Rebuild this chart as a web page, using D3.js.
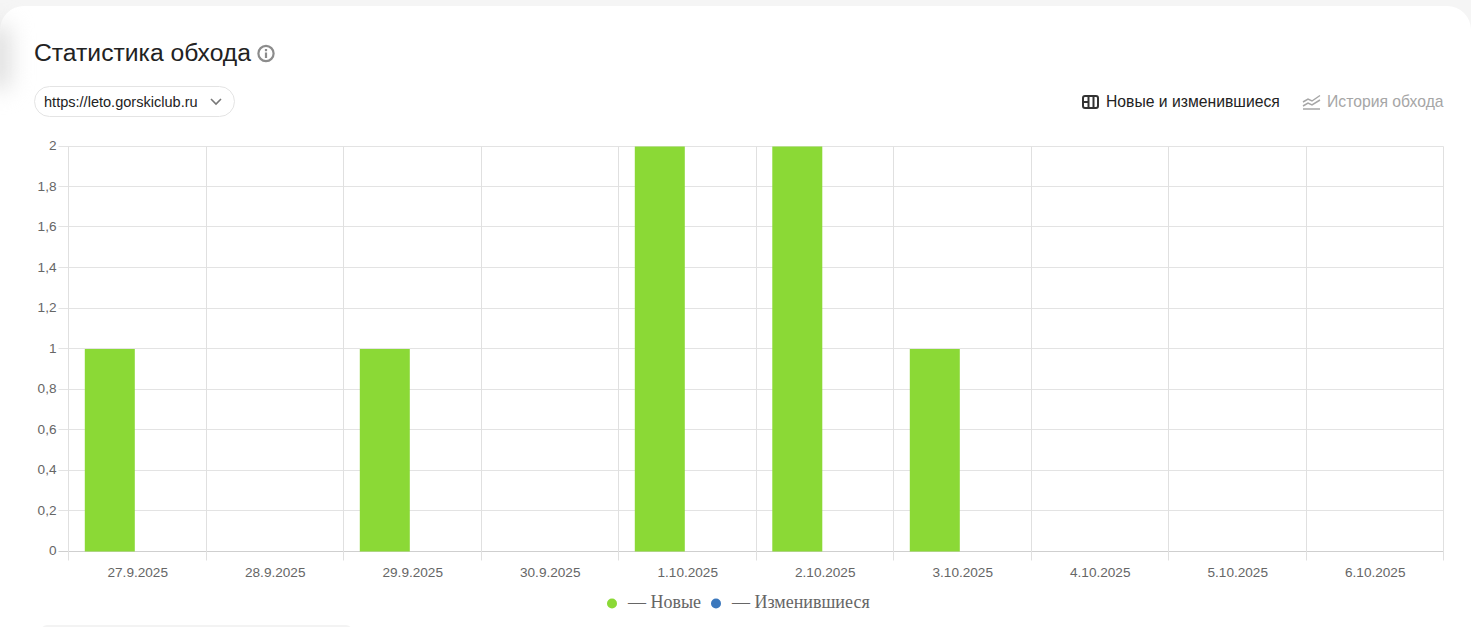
<!DOCTYPE html>
<html lang="ru">
<head>
<meta charset="UTF-8">
<title>Статистика обхода</title>
<script src="https://d3js.org/d3.v7.min.js"></script>
<style>
    html, body { margin: 0; padding: 0; background: #f5f5f5; overflow: hidden; }
    #card {
        position: absolute; left: 0; top: 6px; width: 1471px; height: 640px;
        background: #fff; border-radius: 24px 24px 0 0;
    }
    #shade {
        position: absolute; left: -12px; top: 24px; width: 22px; height: 66px;
        background: #dcdcdc; filter: blur(11px); border-radius: 10px;
    }
    #nextcard {
        position: absolute; left: 41px; top: 625px; width: 311px; height: 20px;
        background: #f3f3f3; border-radius: 6px 6px 0 0;
    }
    svg { position: absolute; left: 0; top: 0; }
    text { font-family: "Liberation Sans", Arial, sans-serif; }
    .tick-label { font-size: 13.6px; fill: #666; }
    .legend-label { font-family: "Liberation Serif", serif; font-size: 18px; fill: #666; }
</style>
</head>
<body>
<div id="card"></div>
<div id="shade"></div>
<div id="nextcard"></div>
<svg id="chart" width="1471" height="627"></svg>
<script>
    const dates = ["27.9.2025", "28.9.2025", "29.9.2025", "30.9.2025", "1.10.2025",
        "2.10.2025", "3.10.2025", "4.10.2025", "5.10.2025", "6.10.2025"];
    const newPages = [1, 0, 1, 0, 2, 2, 1, 0, 0, 0];
    const changedPages = [0, 0, 0, 0, 0, 0, 0, 0, 0, 0];
    const yTicks = [0, 0.2, 0.4, 0.6, 0.8, 1, 1.2, 1.4, 1.6, 1.8, 2];
    const seriesNames = ["Новые", "Изменившиеся"];
    const seriesColors = ["#8bd936", "#3b78bd"];

    const svg = d3.select("#chart");
    const margin = {top: 146.5, right: 27.5, bottom: 75.5, left: 68.5};
    const width = 1471 - margin.left - margin.right;
    const height = 627 - margin.top - margin.bottom;
    const g = svg.append("g").attr("transform", `translate(${margin.left},${margin.top})`);

    const x = d3.scaleBand().domain(dates).range([0, width]);
    const xSeries = d3.scaleBand().domain(seriesNames).range([0, x.bandwidth()])
        .paddingInner(0.04).paddingOuter(0.34).align(0.46);
    const y = d3.scaleLinear().domain([0, 2]).range([height, 0]);

    // snap to the pixel grid so the 1px lines stay crisp
    const snapX = v => Math.floor(v + margin.left) + 0.5 - margin.left;

    // Grid
    g.selectAll(".grid-y").data(yTicks).enter().append("line")
        .attr("x1", -10).attr("x2", width)
        .attr("y1", d => Math.floor(y(d))).attr("y2", d => Math.floor(y(d)))
        .attr("stroke", d => d === 0 ? "#cfcfcf" : "#e3e3e3");
    const edges = dates.map(d => x(d)).concat([width]);
    g.selectAll(".grid-x").data(edges).enter().append("line")
        .attr("x1", d => snapX(d)).attr("x2", d => snapX(d))
        .attr("y1", 0).attr("y2", height + 9)
        .attr("stroke", "#e0e0e0");

    // Bars
    [newPages, changedPages].forEach((values, i) => {
        g.selectAll(".bar" + i).data(values).enter().append("rect")
            .attr("x", (d, k) => x(dates[k]) + xSeries(seriesNames[i]))
            .attr("y", d => y(d))
            .attr("width", xSeries.bandwidth())
            .attr("height", d => height - y(d))
            .attr("fill", seriesColors[i]);
    });

    // Tick labels
    g.selectAll(".x-label").data(dates).enter().append("text")
        .attr("class", "tick-label")
        .attr("x", d => x(d) + x.bandwidth() / 2 + 0.5)
        .attr("y", height + 25)
        .attr("text-anchor", "middle")
        .text(d => d);
    g.selectAll(".y-label").data(yTicks).enter().append("text")
        .attr("class", "tick-label")
        .attr("x", -12)
        .attr("y", d => y(d) + 3.5)
        .attr("text-anchor", "end")
        .text(d => String(d).replace(".", ","));

    // Legend
    const legendX = [612, 716];
    const legendText = [628, 732];
    seriesNames.forEach((name, i) => {
        svg.append("circle").attr("cx", legendX[i]).attr("cy", 603.5).attr("r", 5)
            .attr("fill", seriesColors[i]);
        svg.append("text").attr("class", "legend-label")
            .attr("x", legendText[i]).attr("y", 608).text("— " + name);
    });

    // Header
    svg.append("text").attr("x", 34).attr("y", 61)
        .attr("font-size", 24.7).attr("fill", "#222").text("Статистика обхода");
    const info = svg.append("g").attr("transform", "translate(266,53.5)");
    info.append("circle").attr("r", 7.6).attr("fill", "none").attr("stroke", "#8c8c8c").attr("stroke-width", 2.2);
    info.append("rect").attr("x", -1.1).attr("y", -1).attr("width", 2.2).attr("height", 5.5).attr("fill", "#8c8c8c");
    info.append("rect").attr("x", -1.1).attr("y", -4.5).attr("width", 2.2).attr("height", 2.2).attr("fill", "#8c8c8c");

    // Site selector
    svg.append("rect").attr("x", 34.5).attr("y", 86.5).attr("width", 200).attr("height", 30).attr("rx", 15)
        .attr("fill", "#fff").attr("stroke", "#e4e4e4");
    svg.append("text").attr("x", 44).attr("y", 107).attr("font-size", 14.55).attr("fill", "#222")
        .text("https://leto.gorskiclub.ru");
    svg.append("path").attr("d", "M211 99l5 5 5-5").attr("fill", "none").attr("stroke", "#777").attr("stroke-width", 1.6);

    // View switch
    svg.append("text").attr("x", 1106).attr("y", 107).attr("font-size", 15.73).attr("fill", "#222")
        .text("Новые и изменившиеся");
    svg.append("text").attr("x", 1327).attr("y", 107).attr("font-size", 15.73).attr("fill", "#a6a6a6")
        .text("История обхода");
    const tableIcon = svg.append("g").attr("fill", "none").attr("stroke", "#333").attr("stroke-width", 2);
    tableIcon.append("rect").attr("x", 1083).attr("y", 96).attr("width", 15).attr("height", 12).attr("rx", 2);
    tableIcon.append("path").attr("d", "M1088.5 96v12M1093.5 96v12M1083 102h5");
    const lineIcon = svg.append("g").attr("fill", "none").attr("stroke", "#a6a6a6").attr("stroke-width", 1.5);
    lineIcon.append("path").attr("d", "M1303 102l5-3 4 2 8-5.5");
    lineIcon.append("path").attr("d", "M1303 106l5-3 4 2 8-5");
    lineIcon.append("path").attr("d", "M1303 109h17");
</script>
</body>
</html>
